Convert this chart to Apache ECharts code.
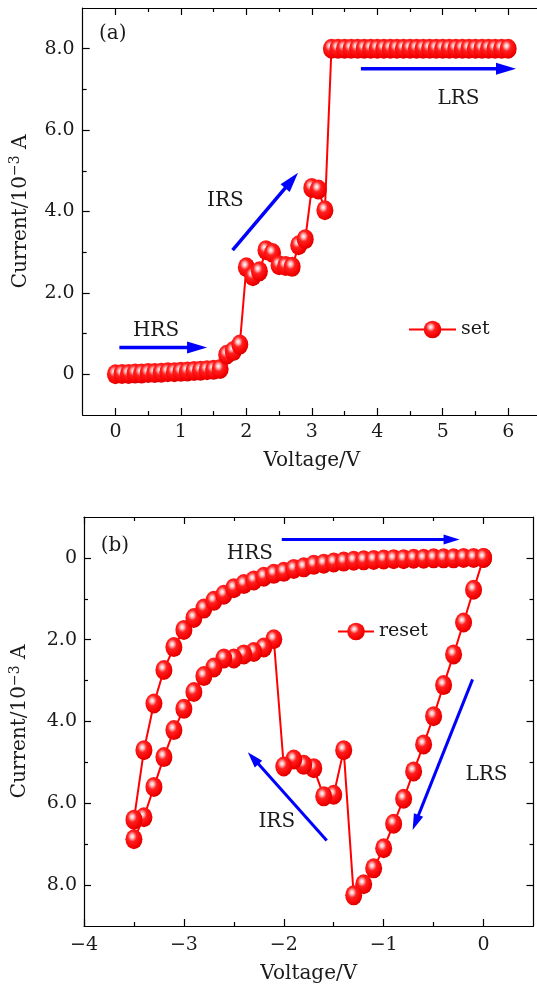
<!DOCTYPE html>
<html>
<head>
<meta charset="utf-8">
<script src="https://cdn.jsdelivr.net/npm/echarts@6/dist/echarts.min.js"></script>
<style>html,body{margin:0;padding:0;background:#fff}#c{width:537px;height:991px}</style>
</head>
<body>
<div id="c"></div>
<script>
// ---------- Panel (a): set sweep ----------
const setVoltage = [0,0.1,0.2,0.3,0.4,0.5,0.6,0.7,0.8,0.9,1.0,1.1,1.2,1.3,1.4,1.5,1.6,
  1.7,1.8,1.9,2.0,2.1,2.2,2.3,2.4,2.5,2.6,2.7,2.8,2.9,3.0,3.1,3.2,
  3.3,3.4,3.5,3.6,3.7,3.8,3.9,4.0,4.1,4.2,4.3,4.4,4.5,4.6,4.7,4.8,4.9,5.0,5.1,5.2,5.3,5.4,5.5,5.6,5.7,5.8,5.9,6.0];
const setCurrent = [0,0.01,0.01,0.02,0.02,0.03,0.03,0.04,0.05,0.05,0.06,0.07,0.08,0.09,0.10,0.11,0.13,
  0.48,0.57,0.73,2.63,2.41,2.53,3.05,2.98,2.68,2.66,2.64,3.17,3.32,4.58,4.54,4.03,
  8.0,8.0,8.0,8.0,8.0,8.0,8.0,8.0,8.0,8.0,8.0,8.0,8.0,8.0,8.0,8.0,8.0,8.0,8.0,8.0,8.0,8.0,8.0,8.0,8.0,8.0,8.0,8.0];

// ---------- Panel (b): reset sweep ----------
const resetVoltage = [0,-0.1,-0.2,-0.3,-0.4,-0.5,-0.6,-0.7,-0.8,-0.9,-1.0,-1.1,-1.2,-1.3,
  -1.4,-1.5,-1.6,-1.7,-1.8,-1.9,-2.0,
  -2.1,-2.2,-2.3,-2.4,-2.5,-2.6,-2.7,-2.8,-2.9,-3.0,-3.1,-3.2,-3.3,-3.4,-3.5,-3.5,
  -3.4,-3.3,-3.2,-3.1,-3.0,-2.9,-2.8,-2.7,-2.6,-2.5,-2.4,-2.3,-2.2,-2.1,-2.0,
  -1.9,-1.8,-1.7,-1.6,-1.5,-1.4,-1.3,-1.2,-1.1,-1.0,-0.9,-0.8,-0.7,-0.6,-0.5,-0.4,-0.3,-0.2,-0.1,0];
const resetCurrent = [0,0.78,1.58,2.36,3.11,3.87,4.56,5.22,5.89,6.50,7.10,7.59,7.98,8.25,
  4.70,5.79,5.83,5.14,5.06,4.93,5.10,
  1.99,2.19,2.30,2.36,2.46,2.46,2.68,2.89,3.28,3.69,4.21,4.87,5.60,6.34,6.88,6.40,
  4.70,3.56,2.74,2.18,1.76,1.47,1.24,1.05,0.90,0.74,0.64,0.55,0.46,0.39,0.34,
  0.27,0.23,0.17,0.14,0.11,0.09,0.07,0.06,0.05,0.04,0.03,0.03,0.02,0.02,0.01,0.01,0.01,0,0,0];

// ---------- Tick values and labels ----------
const xMajorA = [0,1,2,3,4,5,6];
const xLabelsA = ['0','1','2','3','4','5','6'];
const xMinorA = [0.5,1.5,2.5,3.5,4.5,5.5];
const yMajor = [0,2,4,6,8];
const yLabels = ['0','2.0','4.0','6.0','8.0'];
const yMinor = [1,3,5,7];
const xMajorB = [-4,-3,-2,-1,0];
const xLabelsB = ['\u22124','\u22123','\u22122','\u22121','0'];
const xMinorB = [-3.5,-2.5,-1.5,-0.5];

// ---------- Annotations (data coordinates) ----------
const arrowsA = [[0.06,0.66,1.40,0.66],[1.79,3.05,2.79,4.95],[3.75,7.51,6.12,7.51]];
const arrowsB = [[-2.02,-0.45,-0.24,-0.45],[-1.57,6.91,-2.36,4.75],[-0.11,2.97,-0.71,6.65]];
const notesTextA = ['(a)','HRS','IRS','LRS'];
const notesPosA = [[-0.04,8.37],[0.62,1.06],[1.68,4.27],[5.24,6.78]];
const notesTextB = ['(b)','HRS','IRS','LRS'];
const notesPosB = [[-3.69,-0.30],[-2.34,-0.10],[-2.07,6.45],[0.03,5.30]];

const FONT = 'DejaVu Serif';
const TXT = '#1a1a1a';
const FS = 19;
const FS_NAME = 20;
const FS_NOTE = 20;

function ball() {
  return {type:'radial', x:0.4, y:0.36, r:0.72, colorStops:[
    {offset:0, color:'#ffffff'},{offset:0.14, color:'#ffc0c0'},{offset:0.36, color:'#ff2020'},
    {offset:0.75, color:'#f50000'},{offset:1, color:'#c40000'}]};
}
function fmt(values, labels) {
  return function (v) {
    for (let i = 0; i < values.length; i++) if (Math.abs(values[i] - v) < 1e-9) return labels[i];
    return '';
  };
}
const lineSt = {color:'#000', width:1.2};
function majorAxis(o) {
  return Object.assign({
    type:'value', splitLine:{show:false}, minorTick:{show:false}, minorSplitLine:{show:false},
    axisLine:{show:true, onZero:false, lineStyle:lineSt},
    axisTick:{show:true, inside:true, length:7, customValues:o.ticks, lineStyle:lineSt},
    axisLabel: o.labels ? {show:true, customValues:o.ticks, formatter:fmt(o.ticks, o.labels),
      margin:o.margin, fontSize:FS, fontFamily:FONT, color:TXT} : {show:false}
  }, o.base);
}
function minorAxis(o) {
  return Object.assign({
    type:'value', splitLine:{show:false}, minorTick:{show:false},
    axisLine:{show:false, onZero:false},
    axisTick:{show:true, inside:true, length:4, customValues:o.ticks, lineStyle:lineSt},
    axisLabel:{show:false}
  }, o.base);
}
const nameStyle = {fontSize:FS_NAME, fontFamily:FONT, color:TXT};
const yNameStyle = {fontSize:FS_NAME, fontFamily:FONT, color:TXT, lineHeight:24,
  rich:{sup:{fontSize:14, fontFamily:FONT, color:TXT, verticalAlign:'top', lineHeight:24}}};

const xA = {gridIndex:0, min:-0.5, max:6.5};
const yA = {gridIndex:0, min:-1, max:9};
const xB = {gridIndex:1, min:-4, max:0.5};
const yB = {gridIndex:1, min:-1, max:9, inverse:true};

const xAxis = [
  majorAxis({ticks:xMajorA, labels:xLabelsA, margin:8, base:Object.assign({position:'bottom',
    name:'Voltage/V', nameLocation:'middle', nameGap:36, nameTextStyle:nameStyle}, xA)}),
  minorAxis({ticks:xMinorA, base:Object.assign({position:'bottom'}, xA)}),
  majorAxis({ticks:xMajorA, base:Object.assign({position:'top'}, xA)}),
  minorAxis({ticks:xMinorA, base:Object.assign({position:'top'}, xA)}),
  majorAxis({ticks:xMajorB, labels:xLabelsB, margin:10, base:Object.assign({position:'bottom',
    name:'Voltage/V', nameLocation:'middle', nameGap:38, nameTextStyle:nameStyle}, xB)}),
  minorAxis({ticks:xMinorB, base:Object.assign({position:'bottom'}, xB)}),
  majorAxis({ticks:xMajorB, base:Object.assign({position:'top'}, xB)}),
  minorAxis({ticks:xMinorB, base:Object.assign({position:'top'}, xB)})
];
const yAxis = [
  majorAxis({ticks:yMajor, labels:yLabels, margin:8, base:Object.assign({position:'left',
    name:'Current/10{sup|\u22123} A', nameLocation:'middle', nameRotate:90, nameGap:50, nameTextStyle:yNameStyle}, yA)}),
  minorAxis({ticks:yMinor, base:Object.assign({position:'left'}, yA)}),
  majorAxis({ticks:yMajor, labels:yLabels, margin:7, base:Object.assign({position:'left',
    name:'Current/10{sup|\u22123} A', nameLocation:'middle', nameRotate:90, nameGap:52, nameTextStyle:yNameStyle}, yB)}),
  minorAxis({ticks:yMinor, base:Object.assign({position:'left'}, yB)}),
  majorAxis({ticks:yMajor, base:Object.assign({position:'right'}, yB)}),
  minorAxis({ticks:yMinor, base:Object.assign({position:'right'}, yB)})
];

function arrowSeries(xi, yi, data, w, headLen, headW) {
  return {type:'custom', xAxisIndex:xi, yAxisIndex:yi, silent:true, z:6, clip:false, animation:false,
    encode:{x:[0,2], y:[1,3]}, data:data,
    renderItem: function (params, api) {
      const p1 = api.coord([api.value(0), api.value(1)]);
      const p2 = api.coord([api.value(2), api.value(3)]);
      const dx = p2[0]-p1[0], dy = p2[1]-p1[1], L = Math.sqrt(dx*dx+dy*dy);
      const ux = dx/L, uy = dy/L;
      const bx = p2[0]-ux*headLen, by = p2[1]-uy*headLen;
      return {type:'group', children:[
        {type:'line', shape:{x1:p1[0], y1:p1[1], x2:bx+ux*2, y2:by+uy*2}, style:{stroke:'#0000ff', lineWidth:w}},
        {type:'polygon', shape:{points:[[p2[0],p2[1]],[bx-uy*headW/2, by+ux*headW/2],[bx+uy*headW/2, by-ux*headW/2]]},
          style:{fill:'#0000ff'}}
      ]};
    }};
}
function textSeries(xi, yi, pos, texts) {
  return {type:'custom', xAxisIndex:xi, yAxisIndex:yi, silent:true, z:7, clip:false, animation:false,
    data:pos,
    renderItem: function (params, api) {
      const p = api.coord([api.value(0), api.value(1)]);
      return {type:'text', x:p[0], y:p[1], style:{text:texts[params.dataIndex], align:'center',
        verticalAlign:'middle', fontSize:FS_NOTE, fontFamily:FONT, fill:TXT}};
    }};
}
function ivSeries(name, xi, yi, vs, cs) {
  return {type:'line', name:name, xAxisIndex:xi, yAxisIndex:yi, animation:false, z:3,
    data: vs.map(function (v, i) { return [v, cs[i]]; }),
    symbol:'circle', symbolSize:[17,20], showSymbol:true,
    itemStyle:{color:ball(), borderWidth:0},
    lineStyle:{color:'#ff0000', width:2},
    emphasis:{disabled:true}};
}

const chart = echarts.init(document.getElementById('c'), null, {renderer:'canvas'});
chart.setOption({
  backgroundColor:'#ffffff',
  animation:false,
  grid:[
    {left:82.7, top:8, width:458.2, height:407, outerBoundsMode:'none', containLabel:false},
    {left:84, top:517, width:449.5, height:409, outerBoundsMode:'none', containLabel:false}
  ],
  legend:[
    {data:['set'], left:408, top:320, padding:0, itemWidth:47, itemHeight:22, selectedMode:false,
      textStyle:{fontSize:FS, fontFamily:FONT, color:TXT}},
    {data:['reset'], left:337, top:622, padding:0, itemWidth:36, itemHeight:22, selectedMode:false,
      textStyle:{fontSize:FS, fontFamily:FONT, color:TXT}}
  ],
  xAxis: xAxis,
  yAxis: yAxis,
  series: [
    ivSeries('set', 0, 0, setVoltage, setCurrent),
    ivSeries('reset', 4, 2, resetVoltage, resetCurrent),
    arrowSeries(0, 0, arrowsA, 3.5, 20, 12),
    arrowSeries(4, 2, arrowsB, 3, 16, 10),
    textSeries(0, 0, notesPosA, notesTextA),
    textSeries(4, 2, notesPosB, notesTextB)
  ]
});
</script>
</body>
</html>
